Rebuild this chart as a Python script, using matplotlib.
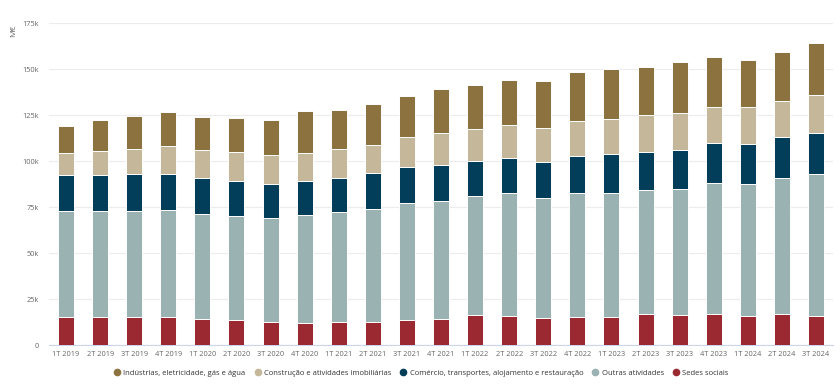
import matplotlib
matplotlib.use("Agg")
import matplotlib.pyplot as plt
from matplotlib.lines import Line2D
import numpy as np

plt.rcParams['font.family'] = ['Open Sans', 'DejaVu Sans']

quarters = ["1T 2019", "2T 2019", "3T 2019", "4T 2019", "1T 2020", "2T 2020", "3T 2020", "4T 2020",
            "1T 2021", "2T 2021", "3T 2021", "4T 2021", "1T 2022", "2T 2022", "3T 2022", "4T 2022",
            "1T 2023", "2T 2023", "3T 2023", "4T 2023", "1T 2024", "2T 2024", "3T 2024"]

sedes = [15.4, 15.0, 15.0, 15.0, 14.1, 13.6, 12.3, 12.0, 12.5, 12.5, 13.4, 14.1,
         16.1, 15.8, 14.7, 15.5, 15.2, 16.7, 16.1, 16.7, 15.8, 16.9, 15.8]
outras = [57.5, 57.9, 57.7, 58.3, 57.0, 56.6, 56.6, 58.7, 59.9, 61.5, 63.9, 64.4,
          65.0, 66.7, 65.1, 67.1, 67.5, 67.6, 68.8, 71.4, 71.8, 73.8, 77.2]
comercio = [19.4, 19.4, 20.3, 19.7, 19.6, 19.2, 18.9, 18.3, 18.6, 19.4, 19.5, 19.3,
            18.9, 19.4, 19.6, 20.3, 21.0, 20.9, 21.4, 21.6, 21.8, 22.3, 22.5]
construcao = [12.3, 13.2, 13.5, 15.1, 15.2, 15.4, 15.4, 15.5, 15.6, 15.6, 16.5, 17.4,
              17.6, 17.8, 18.7, 18.8, 19.1, 19.8, 19.9, 19.8, 19.9, 19.8, 20.4]
industrias = [14.4, 16.9, 17.9, 18.5, 18.1, 18.7, 19.2, 22.6, 21.1, 22.0, 22.3, 24.3,
              24.1, 24.6, 25.5, 26.8, 27.2, 26.1, 27.6, 27.4, 25.8, 26.8, 28.2]

series_names = ["Indústrias, eletricidade, gás e água", "Construção e atividades imobiliárias",
                "Comércio, transportes, alojamento e restauração", "Outras atividades", "Sedes sociais"]
colors = ["#8b723e", "#c5b799", "#023d5a", "#9ab3b2", "#9b2932"]

fig = plt.figure(figsize=(8.4, 3.9), dpi=100)
ax = fig.add_axes([49/840, 45/390, 784/840, (345-23.3)/390])

x = np.arange(len(quarters))
stack_order = [(sedes, 4), (outras, 3), (comercio, 2), (construcao, 1), (industrias, 0)]
bottom = np.zeros(len(quarters))
for vals, ci in stack_order:
    v = np.array(vals) * 1000
    ax.bar(x, v, bottom=bottom, width=0.47, color=colors[ci], edgecolor="white",
           linewidth=0.7, zorder=3)
    bottom += v

ax.set_xlim(-0.5, len(quarters) - 0.5)
ax.set_ylim(0, 175000)
ax.set_yticks(np.arange(0, 175001, 25000))
ax.set_yticklabels(["0"] + [f"{k}k" for k in range(25, 176, 25)])
ax.set_xticks(x)
ax.set_xticklabels(quarters)
ax.tick_params(axis='both', length=0, labelsize=5.3, colors="#666666")
ax.tick_params(axis='y', pad=7)
ax.tick_params(axis='x', pad=4.3)
ax.grid(axis='y', color="#ececec", linewidth=0.8, zorder=0)
for s in ["top", "right", "left"]:
    ax.spines[s].set_visible(False)
ax.spines["bottom"].set_color("#ccd6eb")
ax.spines["bottom"].set_linewidth(0.8)

fig.text(13.5/840, 1 - 31/390, "M€", rotation=90, fontsize=6, color="#666666",
         ha="center", va="center")

handles = [Line2D([0], [0], marker='o', linestyle='', markersize=4.5,
                  markerfacecolor=c, markeredgecolor=c) for c in colors]
fig.legend(handles, series_names, loc="center", bbox_to_anchor=(421/840, 1 - 373/390),
           ncol=5, frameon=False, fontsize=5.5, handlelength=1.0, handletextpad=0.3,
           columnspacing=1.1, labelcolor="#333333")

fig.savefig("out.png", dpi=100)
